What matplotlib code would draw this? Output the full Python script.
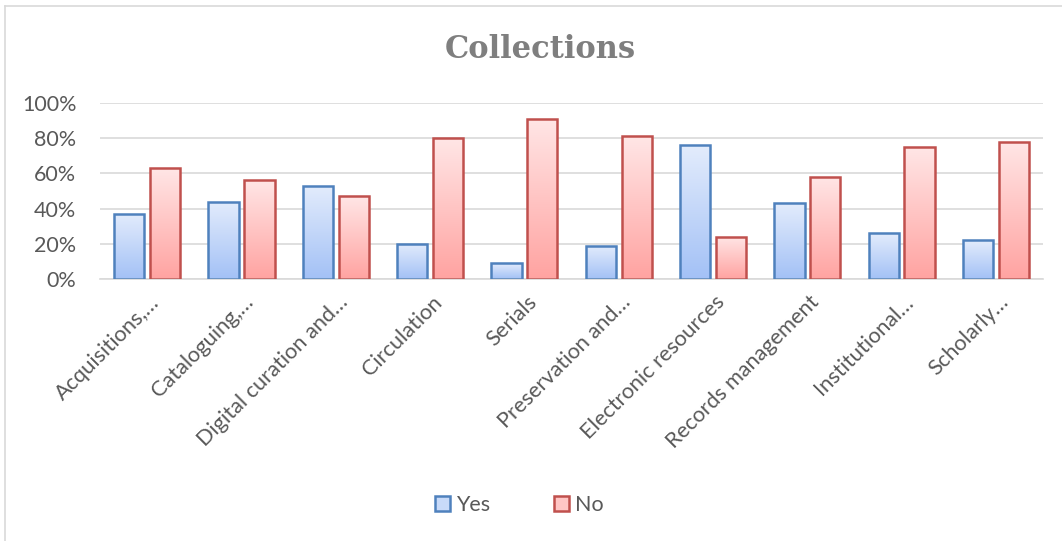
import numpy as np
import matplotlib
matplotlib.use("Agg")
from matplotlib import pyplot as plt
from matplotlib.ticker import PercentFormatter
from matplotlib.transforms import ScaledTranslation

# survey answers per collections area (share of respondents)
categories = ["Acquisitions,\u2026", "Cataloguing,\u2026", "Digital curation and\u2026",
              "Circulation", "Serials", "Preservation and\u2026",
              "Electronic resources", "Records management",
              "Institutional\u2026", "Scholarly\u2026"]
yes_vals = [37, 44, 53, 20, 9, 19, 76, 43, 26, 22]
no_vals = [63, 56, 47, 80, 91, 81, 24, 58, 75, 78]

grey = "#595959"
plt.rcParams["font.family"] = ["Lato", "DejaVu Sans"]

fig = plt.figure(figsize=(10.62, 5.41), dpi=100)
ax = fig.add_axes([0.0942, 0.4843, 0.888, 0.3253])

x = np.arange(len(categories))
w = 0.32
off = 0.19


def gradient_bars(bars, top_col, bot_col):
    # fill each bar with a vertical gradient clipped to the bar shape
    cmap = matplotlib.colors.LinearSegmentedColormap.from_list("g", [bot_col, top_col])
    grad = np.linspace(0, 1, 256).reshape(-1, 1)
    for b in bars:
        x0, y0 = b.get_x(), b.get_y()
        x1, y1 = x0 + b.get_width(), y0 + b.get_height()
        im = ax.imshow(grad, cmap=cmap, origin="lower", aspect="auto",
                       extent=[x0, x1, y0, y1], zorder=2)
        im.set_clip_path(b)


yes_bars = ax.bar(x - off, np.array(yes_vals) / 100, w, facecolor="none",
                  edgecolor="#4f81bd", linewidth=1.8, zorder=3, label="Yes")
no_bars = ax.bar(x + off, np.array(no_vals) / 100, w, facecolor="none",
                 edgecolor="#c0504d", linewidth=1.8, zorder=3, label="No")
gradient_bars(yes_bars, "#e3ecfc", "#a3c1f6")
gradient_bars(no_bars, "#ffe6e6", "#ffa3a1")

ax.set_xlim(-0.5, len(categories) - 0.5)
ax.set_ylim(0, 1.0)
ax.set_yticks(np.arange(0, 1.01, 0.2))
ax.yaxis.set_major_formatter(PercentFormatter(1.0, decimals=0))
ax.grid(axis="y", color="#d9d9d9", linewidth=1.2, zorder=0)
ax.set_axisbelow(True)
for s in ["top", "right", "left"]:
    ax.spines[s].set_visible(False)
ax.spines["bottom"].set_color("#d9d9d9")
ax.spines["bottom"].set_linewidth(1.2)
ax.tick_params(axis="both", length=0, colors=grey, labelsize=15.5)
ax.tick_params(axis="y", pad=17)
ax.tick_params(axis="x", pad=0, labelsize=15.7)
ax.set_xticks(x)
ax.set_xticklabels(categories, rotation=45, ha="right", va="top",
                   rotation_mode="anchor")
shift = ScaledTranslation(0.02, -0.13, fig.dpi_scale_trans)
for lbl in ax.get_xticklabels():
    lbl.set_transform(lbl.get_transform() + shift)

fig.text(0.509, 0.908, "Collections", ha="center", va="center",
         fontsize=22, fontweight="bold", color="#7f7f7f", family="DejaVu Serif")

leg = fig.legend(handles=[yes_bars, no_bars], labels=["Yes", "No"],
                 loc="center", bbox_to_anchor=(0.489, 0.066), ncol=2,
                 frameon=False, fontsize=15.5, handlelength=0.7, handleheight=0.7,
                 columnspacing=3.0, handletextpad=0.25)
for t in leg.get_texts():
    t.set_color(grey)
for h, c in zip(leg.legend_handles, ["#c8daf9", "#ffc6c5"]):
    h.set_facecolor(c)

# chart area border
fig.add_artist(plt.Line2D([0.005, 0.005], [0, 0.989], color="#d9d9d9", lw=1.2))
fig.add_artist(plt.Line2D([0.005, 1], [0.989, 0.989], color="#d9d9d9", lw=1.2))

fig.savefig("out.png", dpi=100)
